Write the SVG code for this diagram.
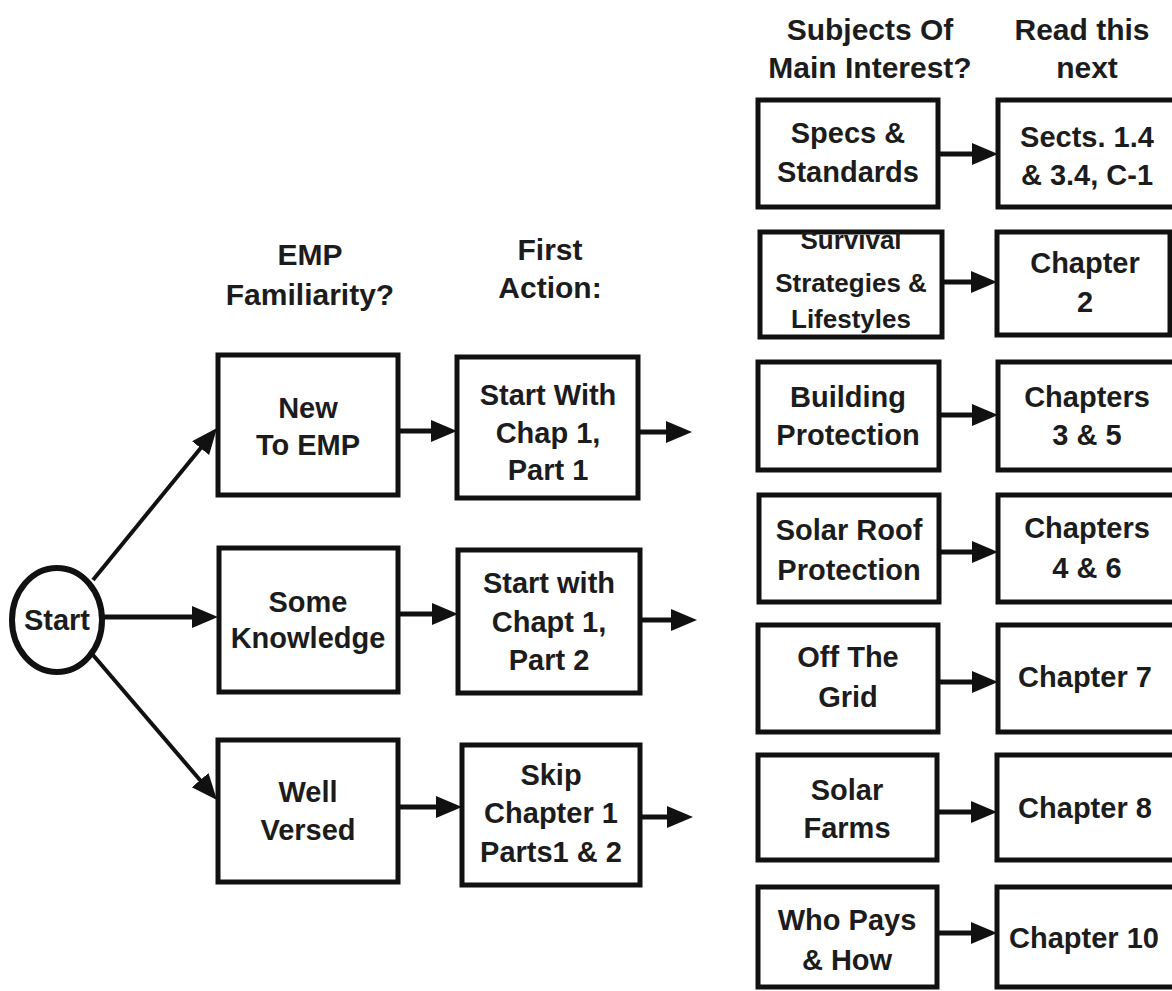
<svg xmlns="http://www.w3.org/2000/svg" width="1172" height="991" viewBox="0 0 1172 991">
<defs>
<marker id="ah" markerUnits="userSpaceOnUse" markerWidth="28" markerHeight="24" refX="10" refY="11" orient="auto">
<path d="M0,0 L26,11 L0,22 z" fill="#111"/>
</marker>
<clipPath id="clipSurv"><rect x="760" y="232" width="182" height="105"/></clipPath>
</defs>
<style>
.box{fill:#fff;stroke:#111;stroke-width:5}
.t{font-family:"Liberation Sans",Arial,sans-serif;font-weight:bold;font-size:29px;fill:#1c1c1c;text-anchor:middle}
.h{font-size:30px}
.s{font-size:26px}
.c{fill:none;stroke:#111;stroke-width:5;marker-end:url(#ah)}
.d{stroke-width:4}
</style>
<rect width="1172" height="991" fill="#fff"/>

<g id="headers">
<text class="t h" x="310" y="265">EMP</text>
<text class="t h" x="310" y="305">Familiarity?</text>
<text class="t h" x="550" y="260">First</text>
<text class="t h" x="550" y="298">Action:</text>
<text class="t h" x="870" y="40">Subjects Of</text>
<text class="t h" x="870" y="78">Main Interest?</text>
<text class="t h" x="1082" y="40">Read this</text>
<text class="t h" x="1087" y="78">next</text>
</g>

<g id="connectors">
<path class="c d" d="M93,580 L206.9,440.4"/>
<path class="c" d="M103,617 L202,617"/>
<path class="c d" d="M93,655 L206.6,787.8"/>
<path class="c" d="M398,431 L441,431"/>
<path class="c" d="M398,614 L442,614"/>
<path class="c" d="M398,807 L446,807"/>
<path class="c" d="M638,432 L676,432"/>
<path class="c" d="M640,620 L681,620"/>
<path class="c" d="M640,817 L677,817"/>
<path class="c" d="M938,154 L982,154"/>
<path class="c" d="M942,282 L981,282"/>
<path class="c" d="M939,415 L982,415"/>
<path class="c" d="M939,552 L982,552"/>
<path class="c" d="M938,682 L982,682"/>
<path class="c" d="M937,812 L981,812"/>
<path class="c" d="M937,933 L981,933"/>
</g>

<g id="start">
<ellipse cx="57" cy="620" rx="45" ry="52" fill="#fff" stroke="#111" stroke-width="6"/>
<text class="t" x="57" y="630">Start</text>
</g>

<g id="new-to-emp">
<rect class="box" x="218" y="355" width="180" height="140"/>
<text class="t" x="308" y="418">New</text>
<text class="t" x="308" y="455">To EMP</text>
</g>
<g id="some-knowledge">
<rect class="box" x="219" y="548" width="179" height="144"/>
<text class="t" x="308" y="612">Some</text>
<text class="t" x="308" y="648">Knowledge</text>
</g>
<g id="well-versed">
<rect class="box" x="218" y="740" width="180" height="142"/>
<text class="t" x="308" y="802">Well</text>
<text class="t" x="308" y="840">Versed</text>
</g>

<g id="chap1-part1">
<rect class="box" x="457" y="357" width="181" height="141"/>
<text class="t" x="548" y="405">Start With</text>
<text class="t" x="548" y="443">Chap 1,</text>
<text class="t" x="548" y="480">Part 1</text>
</g>
<g id="chap1-part2">
<rect class="box" x="458" y="550" width="182" height="143"/>
<text class="t" x="549" y="593">Start with</text>
<text class="t" x="549" y="632">Chapt 1,</text>
<text class="t" x="549" y="670">Part 2</text>
</g>
<g id="skip-chap1">
<rect class="box" x="462" y="745" width="178" height="140"/>
<text class="t" x="551" y="785">Skip</text>
<text class="t" x="551" y="823">Chapter 1</text>
<text class="t" x="551" y="862">Parts1 &amp; 2</text>
</g>

<g id="specs">
<rect class="box" x="758" y="100" width="180" height="107"/>
<text class="t" x="848" y="143">Specs &amp;</text>
<text class="t" x="848" y="182">Standards</text>
</g>
<g id="survival">
<rect class="box" x="760" y="232" width="182" height="105"/>
<g clip-path="url(#clipSurv)">
<text class="t s" x="851" y="249">Survival</text>
</g>
<text class="t s" x="851" y="292">Strategies &amp;</text>
<text class="t s" x="851" y="328">Lifestyles</text>
</g>
<g id="building">
<rect class="box" x="758" y="362" width="181" height="108"/>
<text class="t" x="848" y="407">Building</text>
<text class="t" x="848" y="445">Protection</text>
</g>
<g id="solar-roof">
<rect class="box" x="759" y="495" width="180" height="107"/>
<text class="t" x="849" y="540">Solar Roof</text>
<text class="t" x="849" y="580">Protection</text>
</g>
<g id="off-grid">
<rect class="box" x="758" y="625" width="180" height="107"/>
<text class="t" x="848" y="667">Off The</text>
<text class="t" x="848" y="707">Grid</text>
</g>
<g id="solar-farms">
<rect class="box" x="758" y="755" width="179" height="105"/>
<text class="t" x="847" y="800">Solar</text>
<text class="t" x="847" y="838">Farms</text>
</g>
<g id="who-pays">
<rect class="box" x="758" y="887" width="179" height="100"/>
<text class="t" x="847" y="930">Who Pays</text>
<text class="t" x="847" y="970">&amp; How</text>
</g>

<g id="sects">
<rect class="box" x="998" y="100" width="185" height="107"/>
<text class="t" x="1087" y="147">Sects. 1.4</text>
<text class="t" x="1087" y="185">&amp; 3.4, C-1</text>
</g>
<g id="chapter2">
<rect class="box" x="997" y="232" width="173" height="103"/>
<text class="t" x="1085" y="273">Chapter</text>
<text class="t" x="1085" y="312">2</text>
</g>
<g id="chapters35">
<rect class="box" x="998" y="362" width="185" height="108"/>
<text class="t" x="1087" y="407">Chapters</text>
<text class="t" x="1087" y="445">3 &amp; 5</text>
</g>
<g id="chapters46">
<rect class="box" x="998" y="495" width="185" height="107"/>
<text class="t" x="1087" y="538">Chapters</text>
<text class="t" x="1087" y="578">4 &amp; 6</text>
</g>
<g id="chapter7">
<rect class="box" x="998" y="625" width="185" height="107"/>
<text class="t" x="1085" y="687">Chapter 7</text>
</g>
<g id="chapter8">
<rect class="box" x="997" y="755" width="186" height="105"/>
<text class="t" x="1085" y="818">Chapter 8</text>
</g>
<g id="chapter10">
<rect class="box" x="997" y="887" width="186" height="100"/>
<text class="t" x="1084" y="948">Chapter 10</text>
</g>
</svg>
